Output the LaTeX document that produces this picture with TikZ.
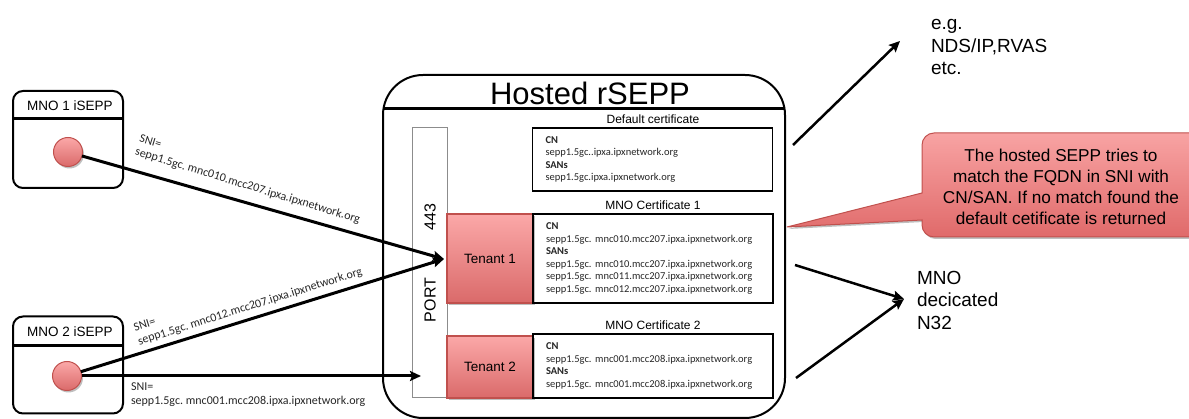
\documentclass[tikz,border=0pt]{standalone}
\usepackage{fontspec}
\setmainfont{Liberation Sans}
\newfontfamily\calib{Carlito}
\usetikzlibrary{arrows.meta,shadows,calc}

\definecolor{pinktop}{HTML}{FBA8A8}
\definecolor{pinkbot}{HTML}{DA6A6A}
\definecolor{pinkedge}{HTML}{C0504D}
\definecolor{calltop}{HTML}{F8A3A3}
\definecolor{callbot}{HTML}{E06A6A}

\frenchspacing
\begin{document}
\begin{tikzpicture}[x=1pt,y=-1pt,
  every node/.style={inner sep=0pt, outer sep=0pt},
  softshadow/.style={drop shadow={opacity=0.25, shadow xshift=1.5pt, shadow yshift=-2pt, fill=black}},
  iseppbox/.style={draw, line width=2pt, rounded corners=10pt, minimum width=110pt, minimum height=97pt},
  hdr/.style={line width=3pt},
  boxtitle/.style={font=\fontsize{13.5}{16}\selectfont},
  endpoint/.style={circle, minimum size=29pt, draw=pinkedge, line width=1pt, top color=pinktop, bottom color=pinkbot, softshadow},
  tenant/.style={draw=pinkedge, line width=1.2pt, top color=pinktop, bottom color=pinkbot, minimum width=86pt, font=\fontsize{13.5}{16}\selectfont, softshadow},
  cert/.style={draw, line width=1.6pt, text width=214pt, inner xsep=13pt, align=left, font=\calib\fontsize{10.5}{12.6}\selectfont, text=black!85},
  certtitle/.style={font=\fontsize{12}{14}\selectfont},
  sni/.style={font=\calib\fontsize{12}{14}\selectfont, text=black!85, align=left, anchor=west},
  link/.style={line width=3pt, -{Stealth[length=11pt, width=10pt, inset=2pt]}},
  outlink/.style={line width=2.5pt, -{Stealth[length=11pt, width=10pt, inset=2pt]}},
  bigtext/.style={font=\fontsize{19}{22.5}\selectfont, align=left}
]
\useasboundingbox (0,0) rectangle (1189,419);

% hosted rSEPP frame
\node[draw, line width=2pt, rounded corners=40pt, minimum width=402pt, minimum height=343pt] (host) at (584,246.5) {};
\draw[hdr] ($(host.north west)+(0.5,34)$) -- ($(host.north east)+(-0.5,34)$);
\node[font=\fontsize{31}{36}\selectfont] (hosttitle) at (590,93) {Hosted rSEPP};

% port column
\node[draw=black!45, line width=1pt, minimum width=35pt, minimum height=270pt] (port) at (429.5,263) {};
\node[rotate=90, font=\fontsize{16}{18}\selectfont] (p443) at (430,217) {443};
\node[rotate=90, font=\fontsize{16}{18}\selectfont] (pname) at (430,300) {PORT};

% tenants
\node[tenant, minimum height=89pt] (t1) at (490,258.5) {Tenant 1};
\node[tenant, minimum height=62pt] (t2) at (490,367) {Tenant 2};

% certificates
\node[certtitle] (dctitle) at (653,119) {Default certificate};
\node[cert, minimum height=63pt] (dc) at (652.5,159.5) {\textbf{CN}\\sepp1.5gc..ipxa.ipxnetwork.org\\\textbf{SANs}\\sepp1.5gc.ipxa.ipxnetwork.org};
\node[certtitle] (c1title) at (653,205) {MNO Certificate 1};
\node[cert, minimum height=89pt] (c1) at (653,258.5) {\textbf{CN}\\sepp1.5gc. mnc010.mcc207.ipxa.ipxnetwork.org\\\textbf{SANs}\\sepp1.5gc. mnc010.mcc207.ipxa.ipxnetwork.org\\sepp1.5gc. mnc011.mcc207.ipxa.ipxnetwork.org\\sepp1.5gc. mnc012.mcc207.ipxa.ipxnetwork.org};
\node[certtitle] (c2title) at (653,325) {MNO Certificate 2};
\node[cert, minimum height=64pt] (c2) at (653,366) {\textbf{CN}\\sepp1.5gc. mnc001.mcc208.ipxa.ipxnetwork.org\\\textbf{SANs}\\sepp1.5gc. mnc001.mcc208.ipxa.ipxnetwork.org};

% visiting iSEPPs
\node[iseppbox] (m1) at (68,139.5) {};
\draw[hdr] ($(m1.north west)+(0,28)$) -- ($(m1.north east)+(0,28)$);
\node[boxtitle] (m1title) at (70,106) {MNO 1 iSEPP};
\node[endpoint] (e1) at (68,152) {};

\node[iseppbox] (m2) at (68,365) {};
\node[boxtitle] (m2title) at (70,332) {MNO 2 iSEPP};
\draw[hdr] ($(m2.north west)+(0,29)$) -- ($(m2.north east)+(0,29)$);
\node[endpoint] (e2) at (67,376) {};

% TLS connections with SNI
\coordinate (t1in) at (444,259);
\coordinate (t2in) at (421,376);
\draw[link] (e1) -- (t1in);
\draw[link] (e2) -- (t1in);
\draw[link] (e2) -- (t2in);

\node[sni, rotate=-17] (sni1) at (137.6,145.4) {SNI=\\sepp1.5gc. mnc010.mcc207.ipxa.ipxnetwork.org};
\node[sni, rotate=17.5] (sni2) at (136.3,335.6) {SNI=\\sepp1.5gc. mnc012.mcc207.ipxa.ipxnetwork.org};
\node[sni] (sni3) at (131,395) {SNI=\\sepp1.5gc. mnc001.mcc208.ipxa.ipxnetwork.org};

% outgoing interfaces
\coordinate (o1s) at (793,145);
\coordinate (o1e) at (900,41);
\coordinate (o2s) at (795,265);
\coordinate (o3s) at (796,378);
\coordinate (n32) at (904,299);
\draw[outlink] (o1s) -- (o1e);
\draw[outlink] (o2s) -- (n32);
\draw[outlink] (o3s) -- (n32);
\node[bigtext, anchor=west] (egtext) at (931,47) {e.g.\\NDS/IP,RVAS\\etc.};
\node[bigtext, anchor=west] (n32text) at (917,300) {MNO\\decicated\\N32};

% explanatory callout
\path[draw=pinkedge, line width=1pt, top color=calltop, bottom color=callbot, softshadow]
  (787,227) -- (922,193) -- (922,145) .. controls (922,138.4) and (927.4,133) .. (934,133)
  -- (1200,133) -- (1200,237) -- (934,237) .. controls (927.4,237) and (922,231.6) .. (922,225)
  -- (922,220) -- cycle;
\node[align=center, font=\fontsize{17.2}{21}\selectfont] (calltext) at (1061,186.5)
  {The hosted SEPP tries to\\match the FQDN in SNI with\\CN/SAN. If no match found the\\default cetificate is returned};
\end{tikzpicture}
\end{document}
